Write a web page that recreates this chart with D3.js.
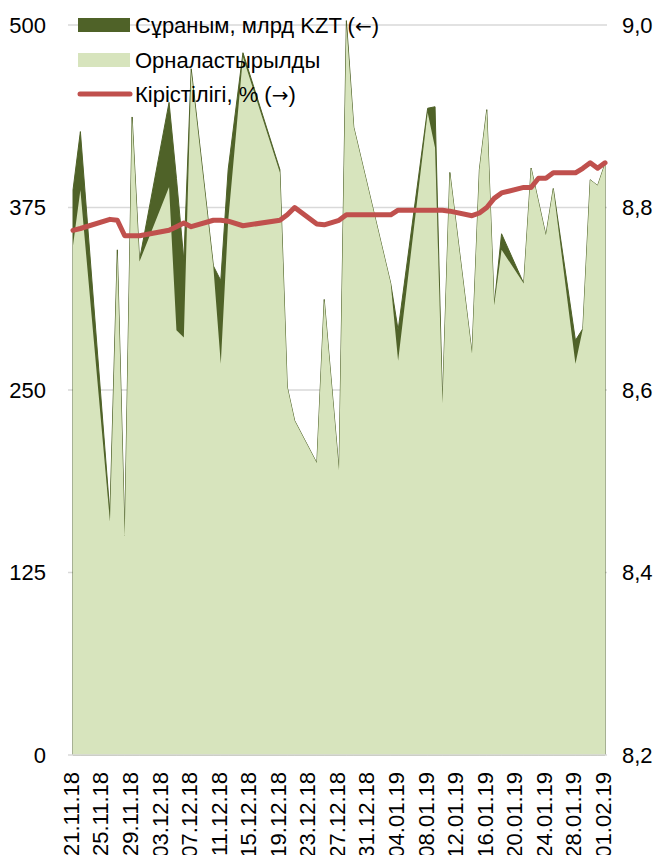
<!DOCTYPE html>
<html><head><meta charset="utf-8">
<script src="https://cdn.jsdelivr.net/npm/d3@7"></script>
<style>
body{margin:0;background:#fff}
svg text{font-family:"Liberation Sans",Arial,sans-serif;fill:#000}
</style>
</head><body>
<svg id="c" width="665" height="855"></svg>
<script>
// ---- data ----
const dates = ["21.11.18","22.11.18","26.11.18","27.11.18","28.11.18","29.11.18","30.11.18",
  "04.12.18","05.12.18","06.12.18","07.12.18","10.12.18","11.12.18","12.12.18","14.12.18",
  "19.12.18","20.12.18","21.12.18","24.12.18","25.12.18","27.12.18","28.12.18","29.12.18",
  "03.01.19","04.01.19","08.01.19","09.01.19","10.01.19","11.01.19","14.01.19","15.01.19",
  "16.01.19","17.01.19","18.01.19","21.01.19","22.01.19","23.01.19","24.01.19","25.01.19",
  "28.01.19","29.01.19","30.01.19","31.01.19","01.02.19"];
const demand = [387,427,165,346,152,437,339,
  447,395,339,470,335,325,401,481,
  401,252,229,200,312,195,503,430,
  323,291,443,444,241,399,275,401,
  442,308,357,323,402,379,356,388,
  284,292,394,390,405];
const placed = [349,387,160,344,150,436,338,
  389,291,286,468,334,268,366,478,
  399,252,229,200,312,195,500,430,
  323,270,440,416,241,399,275,401,
  442,308,346,323,402,379,356,388,
  268,292,394,390,405];
const yieldPct = [8.775,8.777,8.787,8.786,8.769,8.769,8.769,
  8.775,8.779,8.783,8.779,8.786,8.786,8.785,8.780,
  8.786,8.792,8.800,8.782,8.781,8.786,8.792,8.792,
  8.792,8.797,8.797,8.797,8.797,8.796,8.791,8.794,
  8.800,8.810,8.816,8.822,8.822,8.832,8.832,8.838,
  8.838,8.843,8.849,8.843,8.849];
const leftTicks = [0,125,250,375,500];
const rightTicks = [8.2,8.4,8.6,8.8,9.0];
const xTickLabels = ["21.11.18","25.11.18","29.11.18","03.12.18","07.12.18","11.12.18",
  "15.12.18","19.12.18","23.12.18","27.12.18","31.12.18","04.01.19","08.01.19","12.01.19",
  "16.01.19","20.01.19","24.01.19","28.01.19","01.02.19"];
const legendLabels = [["Сұраным, млрд KZT (","←",")"],["Орналастырылды","",""],["Кірістілігі, % (","→",")"]];

// ---- layout ----
const L=73, R=605, T=25, B=755;
const parse = d3.timeParse("%d.%m.%y");
const rows = dates.map((d,i)=>({d:parse(d), dem:demand[i], pl:placed[i], y:yieldPct[i]}));
const x = d3.scaleTime()
  .domain([parse(xTickLabels[0]), parse(xTickLabels[xTickLabels.length-1])])
  .range([L,R]);
const yL = d3.scaleLinear().domain([0,500]).range([B,T]);
const yR = d3.scaleLinear().domain([8.2,9.0]).range([B,T]);
const svg = d3.select("#c");
const fs = 22;

// gridlines
svg.append("g").selectAll("line").data(leftTicks.filter(v=>v>0)).join("line")
  .attr("x1",L-5).attr("x2",R+2).attr("y1",d=>yL(d)).attr("y2",d=>yL(d))
  .attr("stroke","#D9D9D9").attr("stroke-width",1.3);

// areas
const areaDem = d3.area().x(r=>x(r.d)).y0(yL(0)).y1(r=>yL(r.dem));
const areaPl = d3.area().x(r=>x(r.d)).y0(yL(0)).y1(r=>yL(r.pl));
svg.append("path").datum(rows).attr("d",areaDem)
  .attr("fill","#4F6228").attr("stroke","#4F6228").attr("stroke-width",1).attr("stroke-linejoin","miter");
svg.append("path").datum(rows).attr("d",areaPl).attr("fill","#D7E4BD");

// bottom axis line
svg.append("line").attr("x1",L-5).attr("x2",R+2).attr("y1",yL(0)).attr("y2",yL(0))
  .attr("stroke","#D9D9D9").attr("stroke-width",1.3);

// yield line
const line = d3.line().x(r=>x(r.d)).y(r=>yR(r.y));
svg.append("path").datum(rows).attr("d",line)
  .attr("fill","none").attr("stroke","#C0504D").attr("stroke-width",5)
  .attr("stroke-linejoin","round").attr("stroke-linecap","round");

// left axis labels
svg.append("g").selectAll("text").data(leftTicks).join("text")
  .attr("x",46).attr("y",d=>yL(d)).attr("dy","0.36em").attr("text-anchor","end")
  .attr("font-size",fs).text(d=>d);
// right axis labels
const fmtR = d=>d3.format(".1f")(d).replace(".",",");
svg.append("g").selectAll("text").data(rightTicks).join("text")
  .attr("x",622).attr("y",d=>yR(d)).attr("dy","0.36em").attr("text-anchor","start")
  .attr("font-size",fs).text(fmtR);
// date labels
svg.append("g").selectAll("text").data(xTickLabels).join("text")
  .attr("transform",d=>`translate(${x(parse(d))-2},772) rotate(-90)`)
  .attr("dy","0.36em").attr("text-anchor","end").attr("font-size",fs).text(d=>d);

// legend
const lg = svg.append("g");
const ly = [25,60,94];
lg.append("rect").attr("x",78).attr("y",ly[0]-7).attr("width",52).attr("height",14).attr("fill","#4F6228");
lg.append("rect").attr("x",78).attr("y",ly[1]-7).attr("width",52).attr("height",14).attr("fill","#D7E4BD");
lg.append("line").attr("x1",80).attr("x2",130).attr("y1",ly[2]).attr("y2",ly[2])
  .attr("stroke","#C0504D").attr("stroke-width",5).attr("stroke-linecap","round");
const lt = lg.selectAll("text").data(legendLabels).join("text")
  .attr("x",135).attr("y",(d,i)=>ly[i]).attr("dy","0.36em").attr("font-size",fs);
lt.append("tspan").text(d=>d[0]);
lt.append("tspan").style("font-family","'DejaVu Sans'").attr("font-size",20).text(d=>d[1]);
lt.append("tspan").text(d=>d[2]);
</script>
</body></html>
